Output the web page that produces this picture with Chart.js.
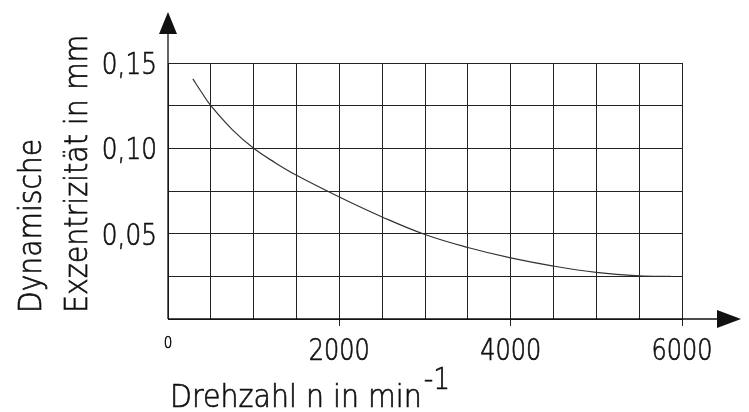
<!DOCTYPE html>
<html>
<head>
<meta charset="utf-8">
<script src="https://cdn.jsdelivr.net/npm/chart.js@4.4.1/dist/chart.umd.min.js"></script>
<style>
  html, body { margin: 0; padding: 0; background: #fff; }
  #wrap { width: 749px; height: 412px; }
</style>
</head>
<body>
<div id="wrap"><canvas id="myChart" width="749" height="412"></canvas></div>
<script>
// ***** Daten *****
var drehzahl = [290, 390, 500, 750, 1000, 1250, 1500, 2000, 2500, 3000, 3500, 4000, 4500, 5000, 5500, 5870];
var exzentrizitaet = [0.1407, 0.133, 0.125, 0.111, 0.100, 0.0916, 0.0842, 0.0715, 0.0598, 0.0495, 0.0419, 0.0358, 0.0310, 0.0273, 0.0253, 0.0250];
var xTickLabels = [0, 2000, 4000, 6000];
var yTickLabels = [0.05, 0.10, 0.15];

var FONT = '"DejaVu Sans", sans-serif';
var INK = '#111';

var punkte = drehzahl.map(function (n, i) { return { x: n, y: exzentrizitaet[i] }; });

// schmale Normschrift nachbilden: dünne Schrift, horizontal gestaucht
function schreib(c, txt, x, y, size, align, sx, rot) {
    c.save();
    c.translate(x, y);
    if (rot) c.rotate(rot);
    c.scale(sx, 1);
    c.font = '200 ' + size + 'px ' + FONT;
    c.textAlign = align;
    c.textBaseline = 'alphabetic';
    c.fillStyle = INK;
    c.strokeStyle = INK;
    c.lineWidth = 0.7;
    c.fillText(txt, 0, 0);
    c.strokeText(txt, 0, 0);
    var w = c.measureText(txt).width * sx;
    c.restore();
    return w;
}

// ***** Achsen mit Pfeilen, Beschriftung, Titel *****
var achsenPlugin = {
    id: 'achsen',
    afterDraw: function (chart) {
        var c = chart.ctx;
        var xs = chart.scales.x, ys = chart.scales.y;
        var x0 = xs.getPixelForValue(0), y0 = ys.getPixelForValue(0);
        c.save();
        c.strokeStyle = INK;
        c.fillStyle = INK;
        c.lineWidth = 1.3;
        // y-Achse
        c.beginPath();
        c.moveTo(x0, y0);
        c.lineTo(x0, 30);
        c.stroke();
        c.beginPath();
        c.moveTo(x0, 12);
        c.lineTo(x0 - 9, 34);
        c.lineTo(x0 + 9, 34);
        c.closePath();
        c.fill();
        // x-Achse
        c.beginPath();
        c.moveTo(x0, y0);
        c.lineTo(720, y0);
        c.stroke();
        c.beginPath();
        c.moveTo(741, y0);
        c.lineTo(717, y0 - 9);
        c.lineTo(717, y0 + 9);
        c.closePath();
        c.fill();
        c.restore();

        // Tick-Beschriftung
        xTickLabels.forEach(function (v) {
            var px = xs.getPixelForValue(v);
            if (v === 0) schreib(c, '0', px, 348, 15, 'center', 0.9);
            else schreib(c, String(v), px, 360, 30, 'center', 0.8);
        });
        yTickLabels.forEach(function (v) {
            var py = ys.getPixelForValue(v);
            schreib(c, v.toFixed(2).replace('.', ','), 157, py + 11, 31, 'right', 0.8);
        });

        // Titel y (zwei Zeilen, gedreht, unten bündig)
        schreib(c, 'Dynamische', 41, 313, 32, 'left', 0.88, -Math.PI / 2);
        schreib(c, 'Exzentrizität in mm', 87, 313, 32, 'left', 0.89, -Math.PI / 2);

        // Titel x mit Exponent
        var w = schreib(c, 'Drehzahl n in min', 170, 407, 32, 'left', 0.89);
        schreib(c, '-1', 170 + w + 2, 389, 30, 'left', 0.88);
    }
};

var ctx = document.getElementById('myChart').getContext('2d');
var chart = new Chart(ctx, {
    type: 'scatter',
    data: {
        datasets: [{
            label: 'Dynamische Exzentrizität',
            data: punkte,
            showLine: true,
            borderColor: '#333',
            borderWidth: 1.2,
            pointRadius: 0,
            tension: 0.4,
            fill: false
        }]
    },
    options: {
        responsive: false,
        animation: false,
        devicePixelRatio: 1,
        layout: { padding: { left: 0, top: 63, right: 67, bottom: 0 } },
        plugins: {
            legend: { display: false },
            tooltip: { enabled: false }
        },
        scales: {
            x: {
                type: 'linear',
                min: 0,
                max: 6000,
                afterFit: function (s) { s.height = 412 - 319; },
                border: { display: false },
                grid: {
                    color: '#222',
                    lineWidth: 1,
                    drawTicks: true,
                    tickLength: 7,
                    tickColor: function (ctx) {
                        var v = ctx.tick ? ctx.tick.value : null;
                        return (v === 2000 || v === 4000 || v === 6000) ? '#222' : 'rgba(0,0,0,0)';
                    }
                },
                ticks: {
                    stepSize: 500,
                    maxRotation: 0,
                    autoSkip: false,
                    callback: function () { return ''; }
                }
            },
            y: {
                type: 'linear',
                min: 0,
                max: 0.15,
                afterFit: function (s) { s.width = 168; },
                border: { display: false },
                grid: {
                    color: '#222',
                    lineWidth: 1,
                    drawTicks: false
                },
                ticks: {
                    stepSize: 0.025,
                    autoSkip: false,
                    callback: function () { return ''; }
                }
            }
        }
    },
    plugins: [achsenPlugin]
});
</script>
</body>
</html>
